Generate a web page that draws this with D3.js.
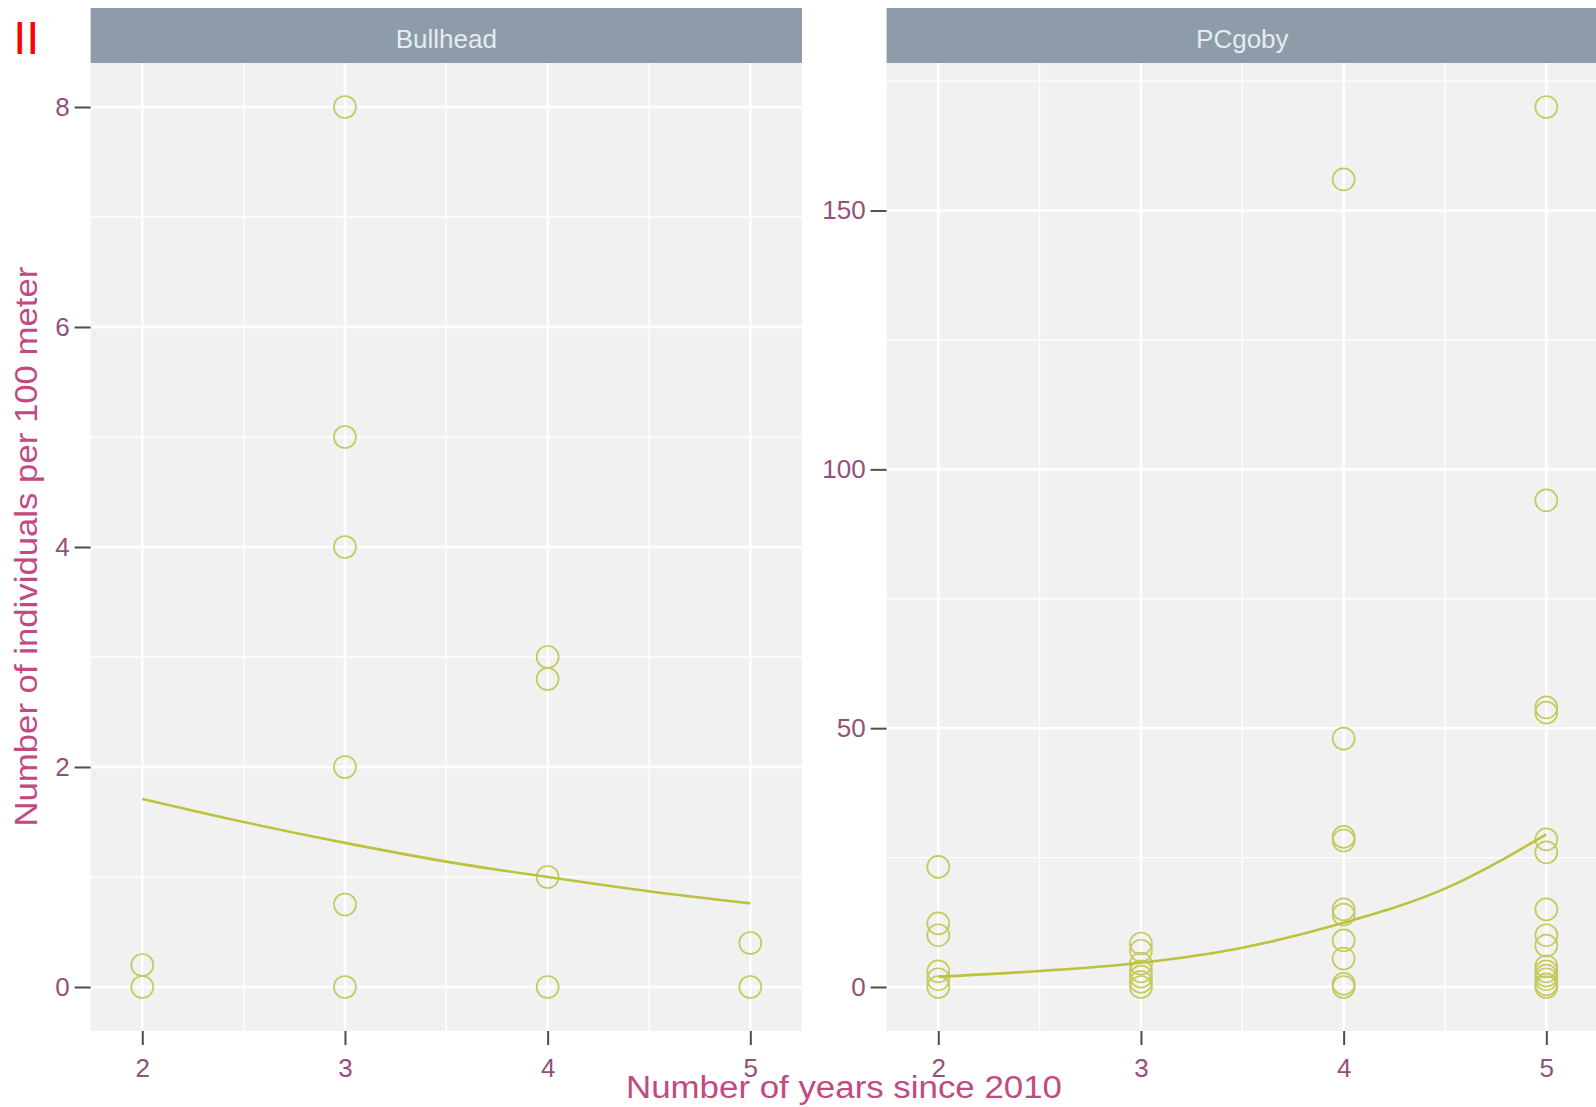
<!DOCTYPE html>
<html>
<head>
<meta charset="utf-8">
<script src="https://cdn.jsdelivr.net/npm/d3@7/dist/d3.min.js"></script>
<style>
  html, body { margin: 0; padding: 0; background: #ffffff; }
  svg { display: block; font-family: "Liberation Sans", Arial, sans-serif; }
</style>
</head>
<body>
<svg id="chart" width="1596" height="1107"></svg>
<script>
// Facet labels
const species = ["Bullhead", "PCgoby"];

// Bullhead counts per 100 m, by years since 2010
const bullheadYears  = [2, 2, 3, 3, 3, 3, 3, 3, 4, 4, 4, 4, 5, 5];
const bullheadCounts = [0.2, 0, 8, 5, 4, 2, 0.75, 0, 3, 2.8, 1, 0, 0.4, 0];

// PCgoby counts per 100 m, by years since 2010
const pcgobyYears = [
  2, 2, 2, 2, 2, 2,
  3, 3, 3, 3, 3, 3, 3,
  4, 4, 4, 4, 4, 4, 4, 4, 4, 4,
  5, 5, 5, 5, 5, 5, 5, 5, 5, 5, 5, 5, 5, 5, 5
];
const pcgobyCounts = [
  23.2, 12.3, 10, 3, 1.5, 0,
  8.4, 7, 4.5, 3, 2, 1, 0,
  156, 48, 29, 28.3, 15, 14, 9, 5.5, 0.6, 0,
  170, 94, 54, 53, 28.5, 26, 15, 10, 8, 4, 3, 2.2, 1.5, 0.5, 0
];

// Fitted trend, read at half-year steps
const fitYears    = [2, 2.5, 3, 3.5, 4, 4.5, 5];
const bullheadFit = [1.71, 1.50, 1.31, 1.14, 1.00, 0.87, 0.76];
const pcgobyFit   = [2.0, 3.1, 4.7, 7.6, 12.4, 19.0, 29.5];

// Axis ticks
const xTicks = [2, 3, 4, 5];
const xMinor = [2.5, 3.5, 4.5];
const bullheadTicks = [0, 2, 4, 6, 8];
const bullheadMinor = [1, 3, 5, 7];
const pcgobyTicks = [0, 50, 100, 150];
const pcgobyMinor = [25, 75, 125, 175];

const xTitle = "Number of years since 2010";
const yTitle = "Number of individuals per 100 meter";

// ---- layout & style ----
const svg = d3.select("#chart");
const panelTop = 63, panelBottom = 1031, panelW = 711.4;
const panelLefts = [90.6, 886.6];
const stripTop = 8;
const pointColor = "#c4ca5c";
const lineColor = "#bcc23e";
const labelColor = "#94507a";
const titleColor = "#c24a82";

const panels = [
  { name: species[0], xs: bullheadYears, ys: bullheadCounts, fit: bullheadFit,
    domain: [-0.4, 8.4], ticks: bullheadTicks, minor: bullheadMinor },
  { name: species[1], xs: pcgobyYears, ys: pcgobyCounts, fit: pcgobyFit,
    domain: [-8.5, 178.5], ticks: pcgobyTicks, minor: pcgobyMinor }
];

panels.forEach((p, i) => {
  const left = panelLefts[i];
  const x = d3.scaleLinear().domain([1.745, 5.255]).range([left, left + panelW]);
  const y = d3.scaleLinear().domain(p.domain).range([panelBottom, panelTop]);

  const g = svg.append("g");

  // strip
  g.append("rect")
    .attr("x", left).attr("y", stripTop)
    .attr("width", panelW).attr("height", panelTop - stripTop)
    .attr("fill", "#8d9ca8");
  g.append("text")
    .attr("x", left + panelW / 2).attr("y", 48)
    .attr("text-anchor", "middle")
    .attr("font-size", 26)
    .attr("fill", "#e6ebf1")
    .text(p.name);

  // panel background
  g.append("rect")
    .attr("x", left).attr("y", panelTop)
    .attr("width", panelW).attr("height", panelBottom - panelTop)
    .attr("fill", "#f1f1f1");

  const grid = g.append("g").attr("stroke", "#ffffff");
  grid.selectAll(".hmin").data(p.minor).join("line")
    .attr("x1", left).attr("x2", left + panelW)
    .attr("y1", d => y(d)).attr("y2", d => y(d))
    .attr("stroke-width", 1.3);
  grid.selectAll(".vmin").data(xMinor).join("line")
    .attr("y1", panelTop).attr("y2", panelBottom)
    .attr("x1", d => x(d)).attr("x2", d => x(d))
    .attr("stroke-width", 1.3);
  grid.selectAll(".hmaj").data(p.ticks).join("line")
    .attr("x1", left).attr("x2", left + panelW)
    .attr("y1", d => y(d)).attr("y2", d => y(d))
    .attr("stroke-width", 2.6);
  grid.selectAll(".vmaj").data(xTicks).join("line")
    .attr("y1", panelTop).attr("y2", panelBottom)
    .attr("x1", d => x(d)).attr("x2", d => x(d))
    .attr("stroke-width", 2.6);

  // points
  g.append("g").selectAll("circle")
    .data(p.xs.map((d, k) => [d, p.ys[k]]))
    .join("circle")
    .attr("cx", d => x(d[0]))
    .attr("cy", d => y(d[1]))
    .attr("r", 11)
    .attr("fill", "none")
    .attr("stroke", pointColor)
    .attr("stroke-width", 1.7);

  // fitted trend
  g.append("path")
    .datum(fitYears.map((d, k) => [d, p.fit[k]]))
    .attr("d", d3.line().x(d => x(d[0])).y(d => y(d[1])).curve(d3.curveMonotoneX))
    .attr("fill", "none")
    .attr("stroke", lineColor)
    .attr("stroke-width", 2.6);

  // axes
  const yAxis = g.append("g")
    .attr("transform", `translate(${left},0)`)
    .call(d3.axisLeft(y).tickValues(p.ticks).tickFormat(d3.format("d")).tickSize(16).tickPadding(5));
  const xAxis = g.append("g")
    .attr("transform", `translate(0,${panelBottom})`)
    .call(d3.axisBottom(x).tickValues(xTicks).tickFormat(d3.format("d")).tickSize(14).tickPadding(14));
  [yAxis, xAxis].forEach(a => {
    a.select(".domain").remove();
    a.selectAll(".tick line").attr("stroke", "#4d4d4d").attr("stroke-width", 2);
    a.selectAll(".tick text")
      .attr("font-size", 26)
      .attr("font-family", "'Liberation Sans', Arial, sans-serif")
      .attr("fill", labelColor);
  });
});

// axis titles
svg.append("text")
  .attr("x", 844).attr("y", 1098)
  .attr("text-anchor", "middle")
  .attr("font-size", 31)
  .attr("textLength", 436).attr("lengthAdjust", "spacingAndGlyphs")
  .attr("fill", titleColor)
  .text(xTitle);

svg.append("text")
  .attr("transform", "translate(37,546.6) rotate(-90)")
  .attr("text-anchor", "middle")
  .attr("font-size", 31)
  .attr("textLength", 560).attr("lengthAdjust", "spacingAndGlyphs")
  .attr("fill", titleColor)
  .text(yTitle);

// panel marker
svg.append("text")
  .attr("x", 13.3).attr("y", 54.3)
  .attr("font-size", 47)
  .attr("fill", "#ff0000")
  .text("II");
</script>
</body>
</html>
